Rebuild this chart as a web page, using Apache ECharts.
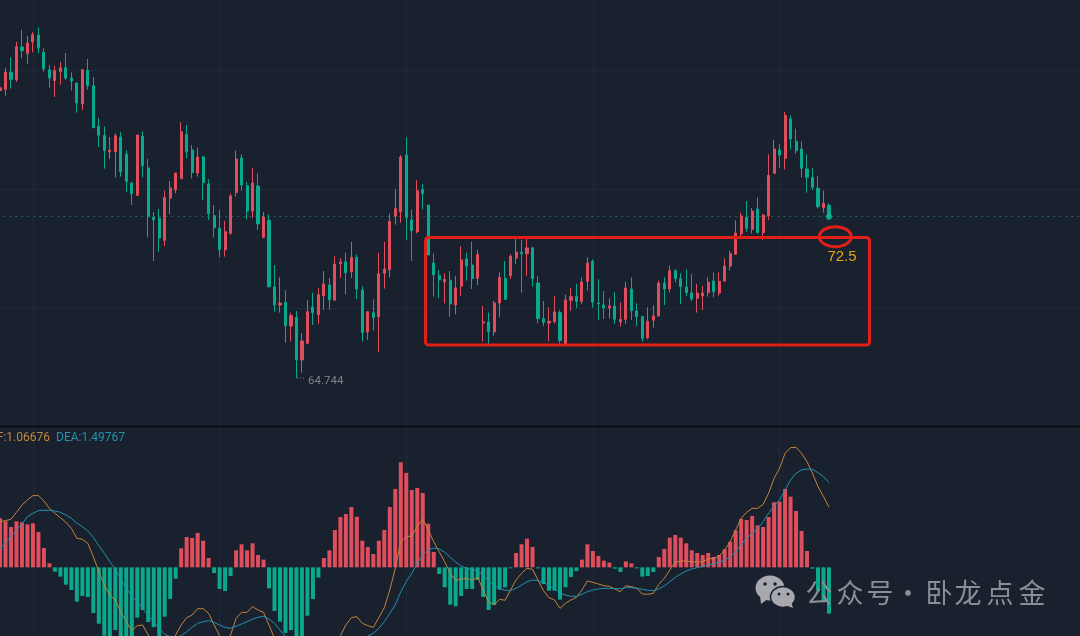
<!DOCTYPE html>
<html><head><meta charset="utf-8">
<style>html,body{margin:0;padding:0;background:#1a212e;overflow:hidden}#c{width:1080px;height:636px}</style>
<script src="https://cdn.jsdelivr.net/npm/echarts@6/dist/echarts.min.js"></script>
</head><body><div id="c"></div>
<script>
const opens=[80.55,80.62,81.56,81.14,82.95,82.60,83.23,83.61,82.66,81.70,
81.10,81.59,81.81,81.24,80.97,79.83,81.67,80.82,78.60,78.09,
77.18,77.19,78.00,77.05,75.47,74.79,78.04,76.30,73.58,73.53,
72.32,74.63,75.09,75.71,78.15,77.29,76.02,76.90,75.42,73.67,
72.98,71.79,72.70,74.94,76.85,75.32,73.93,75.30,72.48,73.42,
69.75,68.76,68.91,67.60,68.08,65.74,66.65,68.65,68.23,69.27,
69.86,69.02,71.03,71.13,70.58,71.38,69.59,67.28,68.34,68.12,
70.50,70.70,73.64,73.87,77.01,73.44,72.79,75.10,74.26,71.07,
70.37,70.03,70.12,68.76,69.80,71.29,70.96,70.23,67.77,67.83,
67.28,68.87,70.23,70.37,71.34,71.67,71.58,71.91,69.97,68.01,
67.77,67.84,68.34,66.62,69.02,69.24,68.96,70.06,71.16,68.87,
68.76,68.60,68.71,67.83,67.97,69.64,68.43,68.12,66.96,67.92,
68.16,69.97,69.64,70.65,70.21,69.75,69.42,69.13,69.26,69.44,
70.08,69.42,70.08,70.90,71.55,72.67,73.58,72.92,74.04,72.74,
73.67,76.00,77.29,76.83,78.99,77.76,77.34,76.24,75.78,75.18,74.11,74.24];
const closes=[80.71,81.56,81.17,82.97,82.75,83.17,83.63,82.91,81.76,81.24,
81.65,81.81,81.24,81.08,79.87,81.70,80.82,78.51,78.09,77.25,
77.27,78.07,76.08,75.56,74.88,78.11,76.42,73.62,73.44,72.45,
74.68,75.20,76.02,78.29,77.19,76.04,76.90,75.49,73.78,73.01,
71.80,72.79,74.76,76.79,75.36,73.93,75.47,73.22,73.60,69.77,
68.76,68.87,67.62,68.17,65.74,66.78,68.39,68.34,69.33,69.92,
69.04,71.00,71.13,70.54,71.38,69.64,67.24,68.39,68.06,70.48,
70.74,73.36,74.06,76.90,73.56,72.85,75.05,74.90,71.51,70.43,
70.14,70.17,68.82,69.70,71.24,70.90,70.21,71.53,67.83,67.29,
68.87,70.28,69.07,71.45,71.67,71.58,71.90,70.21,68.01,67.81,
67.86,68.38,66.80,69.04,69.22,68.96,70.03,71.07,68.91,68.82,
68.60,68.71,67.97,67.97,69.70,68.45,68.12,66.93,67.86,68.16,
69.97,69.64,70.65,70.21,69.77,69.44,69.09,69.42,69.42,70.01,
69.49,70.06,70.90,71.60,72.72,73.66,72.98,73.93,72.74,73.71,
75.89,77.34,77.01,79.19,77.89,77.25,76.28,75.78,75.23,74.17,74.35,73.62];
const highs=[80.75,81.81,82.38,83.23,83.89,83.56,83.76,84.03,82.88,81.96,
81.90,82.13,82.62,81.56,80.97,81.70,82.29,81.30,79.05,78.57,
78.00,78.20,78.27,77.27,75.51,78.11,78.31,76.80,73.87,74.04,
75.05,75.58,76.02,78.82,78.66,77.56,77.41,76.97,75.67,74.26,
73.99,73.38,74.87,77.25,77.05,75.53,76.30,76.00,73.87,73.73,
70.96,70.28,69.58,68.34,68.43,67.22,69.02,69.44,69.71,70.63,
70.25,71.44,71.33,71.64,72.23,71.53,69.79,68.43,69.07,71.64,
72.23,73.78,75.14,77.01,77.98,74.00,75.62,75.41,74.26,71.60,
70.69,70.50,70.63,70.36,72.00,71.64,72.23,71.78,68.71,68.34,
68.98,70.56,71.18,71.55,72.48,72.34,72.52,71.93,70.36,68.98,
68.63,69.24,68.49,69.33,69.70,69.92,70.28,71.38,71.27,70.17,
69.53,69.13,69.48,68.91,70.03,70.28,68.85,68.17,68.63,68.74,
70.10,70.28,70.94,70.72,70.50,70.72,70.46,69.92,69.80,70.28,
70.54,70.56,71.33,71.75,73.42,73.84,74.48,74.08,74.68,73.77,
77.05,77.84,77.62,79.39,79.19,78.46,77.76,77.05,76.30,75.84,75.05,74.35];
const lows=[80.54,80.26,80.66,81.03,82.34,82.03,82.66,82.60,81.59,80.71,
80.20,80.88,81.14,80.55,79.34,79.49,80.60,78.51,77.45,76.26,
76.79,75.78,75.82,74.98,74.26,74.79,75.78,72.48,71.18,71.69,
72.00,73.76,74.90,75.71,76.83,75.73,75.82,74.54,73.44,72.46,
71.38,71.42,72.63,74.72,75.05,73.47,73.53,72.89,72.43,69.71,
68.39,68.34,66.69,66.76,64.74,65.04,66.62,67.66,67.72,68.49,
68.49,69.02,70.25,69.35,70.23,69.09,66.76,66.84,67.35,66.16,
69.66,70.28,73.18,73.29,72.34,71.18,72.70,74.02,71.51,69.22,
69.14,68.85,68.12,68.25,69.26,70.10,69.64,69.86,66.74,66.62,
67.07,68.08,69.07,70.19,71.00,69.44,70.37,69.77,67.75,67.60,
66.76,67.75,66.65,66.56,68.45,68.58,68.82,69.55,68.61,67.94,
67.99,68.03,67.72,67.57,67.72,67.94,67.61,66.74,66.87,67.51,
68.12,68.76,69.44,70.01,68.82,69.26,68.99,68.34,68.49,69.22,
69.18,69.27,70.03,70.65,71.51,72.43,72.79,72.70,72.70,72.34,
73.44,76.00,76.31,76.22,77.32,77.07,75.78,74.94,75.09,74.08,73.84,73.44];
const macdHist=[.867,.814,.714,.814,.797,.761,.779,.625,.342,.071,
-.077,-.165,-.307,-.401,-.608,-.507,-.525,-.808,-.997,-1.21,
-1.30,-1.11,-1.33,-1.39,-1.27,-.891,-.755,-.968,-1.06,-1.27,
-.873,-.561,-.201,.336,.537,.519,.608,.472,.165,-.100,
-.384,-.419,-.153,.301,.407,.301,.425,.218,.136,-.372,
-.773,-.962,-1.16,-1.11,-1.24,-1.27,-.856,-.561,-.183,.165,
.301,.661,.891,.944,1.068,.897,.472,.360,.236,.472,
.661,1.068,1.387,1.859,1.670,1.369,1.404,1.316,.773,.271,
-.118,-.354,-.661,-.690,-.507,-.384,-.384,-.224,-.525,-.755,
-.667,-.395,-.354,-.018,.254,.407,.507,.360,-.018,-.295,
-.413,-.413,-.572,-.354,-.171,-.065,.136,.407,.289,.201,
.118,.083,-.024,-.083,.106,.071,-.018,-.165,-.153,-.083,
.183,.325,.525,.572,.525,.425,.301,.254,.218,.254,
.183,.218,.319,.454,.655,.856,.838,.909,.743,.714,
.891,1.151,1.162,1.387,1.251,.997,.643,.289,-.024,-.413,-.620,-.820];
const dif=[.808,.826,.850,.974,1.103,1.192,1.269,1.269,1.174,1.044,
.956,.879,.797,.690,.513,.496,.425,.189,-.077,-.313,
-.490,-.578,-.785,-.962,-1.121,-1.033,-1.021,-1.198,-1.375,-1.463,
-1.522,-1.493,-1.198,-1.021,-.891,-.844,-.732,-.732,-.814,-1.021,
-1.210,-1.316,-1.198,-.903,-.797,-.797,-.696,-.755,-.797,-1.021,
-1.257,-1.434,-1.552,-1.611,-1.670,-1.699,-1.699,-1.670,-1.581,-1.493,
-1.375,-1.286,-1.210,-1.021,-.891,-.873,-.991,-1.033,-1.062,-.891,
-.714,-.401,-.018,.454,.543,.555,.720,.856,.661,.454,
.277,.100,-.106,-.236,-.207,-.195,-.230,-.171,-.401,-.608,
-.661,-.566,-.584,-.401,-.224,-.106,-.018,-.035,-.224,-.413,
-.537,-.578,-.726,-.637,-.578,-.531,-.401,-.242,-.266,-.295,
-.325,-.336,-.384,-.431,-.325,-.342,-.372,-.472,-.478,-.460,
-.301,-.195,-.047,.089,.112,.112,.094,.094,.100,.148,
.159,.201,.307,.454,.661,.867,.974,1.044,1.044,1.115,
1.310,1.575,1.752,2.018,2.118,2.124,2.018,1.870,1.664,1.428,1.251,1.06676];
const dea=[.325,.437,.543,.661,.767,.897,.956,1.003,1.009,1.009,
.997,.974,.926,.867,.779,.720,.643,.531,.384,.248,
.100,-.030,-.212,-.372,-.507,-.608,-.738,-.844,-.962,-1.080,
-1.186,-1.227,-1.245,-1.210,-1.139,-1.062,-.991,-.962,-.944,-.974,
-1.021,-1.062,-1.080,-1.044,-1.003,-.962,-.915,-.885,-.867,-.915,
-.991,-1.109,-1.227,-1.316,-1.387,-1.446,-1.493,-1.522,-1.540,-1.540,
-1.522,-1.493,-1.446,-1.404,-1.363,-1.316,-1.269,-1.215,-1.168,-1.080,
-.962,-.814,-.667,-.431,-.254,-.106,.071,.218,.313,.342,
.325,.266,.177,.094,.024,-.018,-.035,-.065,-.136,-.254,
-.325,-.372,-.407,-.407,-.372,-.313,-.254,-.224,-.236,-.266,
-.325,-.372,-.460,-.490,-.513,-.513,-.478,-.431,-.401,-.384,
-.372,-.372,-.378,-.378,-.360,-.360,-.372,-.389,-.407,-.413,
-.384,-.330,-.254,-.177,-.118,-.065,-.030,-.006,.018,.041,
.059,.089,.130,.177,.277,.407,.513,.602,.690,.808,
.956,1.086,1.192,1.369,1.546,1.664,1.723,1.741,1.735,1.676,1.605,1.49767];
const gridPrices=[81.685,75.14,68.595];
const gridColumns=[6,40,74,108,142];
const difLabel='DIF:1.06676', deaLabel='DEA:1.49767', lowLabel='64.744', targetLabel='72.5';
const watermarkChars=['公','众','号','·','卧','龙','点','金'];
const watermarkX=[819,850,880,908,939,968,1000,1032];

const BANDS=198, BAND=5.49;
const categories=Array.from({length:BANDS},(_,i)=>String(i));
const UP='#e04d5c', DOWN='#0aa88c';
const gridLine={color:'#1f2b36',width:1,type:'solid'};
const chart=echarts.init(document.getElementById('c'),null,{renderer:'canvas'});
const lastIdx=closes.length-1;
chart.setOption({
 animation:false, backgroundColor:'#1a212e',
 grid:[{left:-2.745,top:0,width:BANDS*BAND,height:427,containLabel:false,outerBoundsMode:'none'},
       {left:-2.745,top:427,width:BANDS*BAND,height:209,containLabel:false,outerBoundsMode:'none'}],
 xAxis:[{type:'category',gridIndex:0,data:categories,axisLine:{show:false},axisTick:{show:false},axisLabel:{show:false},splitLine:{show:false}},
        {type:'category',gridIndex:1,data:categories,axisLine:{show:false},axisTick:{show:false},axisLabel:{show:false},splitLine:{show:false}}],
 yAxis:[{type:'value',gridIndex:0,min:62.05,max:85.535,axisLine:{show:false},axisTick:{show:false},axisLabel:{show:false},splitLine:{show:false}},
        {type:'value',gridIndex:1,min:-1.2154,max:2.4833,axisLine:{show:false},axisTick:{show:false},axisLabel:{show:false},splitLine:{show:false}}],
 series:[
  {type:'line',xAxisIndex:0,yAxisIndex:0,z:1,data:[],silent:true,
   markLine:{z:0,silent:true,symbol:'none',label:{show:false},lineStyle:gridLine,animation:false,
    data:gridPrices.map(v=>({yAxis:v})).concat(gridColumns.map(c=>({xAxis:c})))}},
  {type:'line',xAxisIndex:1,yAxisIndex:1,z:1,data:[],silent:true,
   markLine:{z:0,silent:true,symbol:'none',label:{show:false},lineStyle:gridLine,animation:false,
    data:gridColumns.map(c=>({xAxis:c}))}},
  {type:'candlestick',xAxisIndex:0,yAxisIndex:0,z:3,barWidth:2.6,
   data:opens.map((o,i)=>[o,closes[i],lows[i],highs[i]]),
   itemStyle:{color:UP,color0:DOWN,borderColor:UP,borderColor0:DOWN,borderWidth:1},
   markLine:{z:1,silent:true,symbol:'none',label:{show:false},animation:false,
    lineStyle:{color:'#2a5c5a',width:1,type:[2,4]},
    data:[{yAxis:closes[lastIdx]}]}},
  {type:'scatter',xAxisIndex:0,yAxisIndex:0,z:4,symbolSize:6,silent:true,
   data:[[lastIdx,closes[lastIdx]]],
   itemStyle:{color:'#12b79a',shadowBlur:18,shadowColor:'#12d0ae'}},
  {type:'bar',xAxisIndex:1,yAxisIndex:1,z:2,barWidth:4,
   data:macdHist.map(v=>({value:v,itemStyle:{color:v>=0?UP:DOWN}}))},
  {type:'line',xAxisIndex:1,yAxisIndex:1,z:3,data:dif,symbol:'none',showSymbol:false,lineStyle:{color:'#c5843c',width:1}},
  {type:'line',xAxisIndex:1,yAxisIndex:1,z:3,data:dea,symbol:'none',showSymbol:false,lineStyle:{color:'#1f93b0',width:1}}
 ],
 graphic:{elements:[
  {type:'line',silent:true,z:20,shape:{x1:0,y1:426.5,x2:1080,y2:426.5},style:{stroke:'#07090d',lineWidth:1.5}},
  {type:'rect',silent:true,z:30,shape:{x:425.5,y:237.5,width:444,height:107.5,r:3},style:{fill:'none',stroke:'#e21e18',lineWidth:3}},
  {type:'ellipse',silent:true,z:30,shape:{cx:835.3,cy:236.7,rx:16,ry:10},style:{fill:'none',stroke:'#e21e18',lineWidth:3}},
  {type:'text',silent:true,z:30,style:{x:842,y:257,text:targetLabel,fill:'#dfa80e',font:'15px "Liberation Sans",Arial,sans-serif',align:'center',verticalAlign:'middle'}},
  {type:'line',silent:true,z:25,shape:{x1:297,y1:378,x2:306,y2:378},style:{stroke:'#7c828c',lineWidth:1,lineDash:[1,2]}},
  {type:'text',silent:true,z:25,style:{x:308,y:381,text:lowLabel,fill:'#7c828c',font:'11.5px Roboto,sans-serif',align:'left',verticalAlign:'middle'}},
  {type:'text',silent:true,z:25,style:{x:50,y:438,text:difLabel,fill:'#c5843c',font:'12px Roboto,sans-serif',align:'right',verticalAlign:'middle'}},
  {type:'text',silent:true,z:25,style:{x:56,y:438,text:deaLabel,fill:'#1f93b0',font:'12px Roboto,sans-serif',align:'left',verticalAlign:'middle'}},
  {type:'ellipse',silent:true,z:40,shape:{cx:770,cy:588,rx:14.5,ry:12.5},style:{fill:'#a7a9ae'}},
  {type:'polygon',silent:true,z:40,shape:{points:[[760,596],[761,604],[769,598]]},style:{fill:'#a7a9ae'}},
  {type:'circle',silent:true,z:41,shape:{cx:765,cy:584,r:1.8},style:{fill:'#1a212e'}},
  {type:'circle',silent:true,z:41,shape:{cx:775,cy:584,r:1.8},style:{fill:'#1a212e'}},
  {type:'ellipse',silent:true,z:42,shape:{cx:783,cy:597,rx:12.5,ry:10.5},style:{fill:'#a7a9ae',stroke:'#1a212e',lineWidth:1.5}},
  {type:'polygon',silent:true,z:42,shape:{points:[[785,605],[793,608],[791,601]]},style:{fill:'#a7a9ae'}},
  {type:'circle',silent:true,z:43,shape:{cx:779,cy:594,r:1.5},style:{fill:'#1a212e'}},
  {type:'circle',silent:true,z:43,shape:{cx:788,cy:594,r:1.5},style:{fill:'#1a212e'}}
 ].concat(watermarkChars.map((ch,i)=>({type:'text',silent:true,z:40,style:{x:watermarkX[i],y:593,text:ch,fill:'#8b8e94',font:'27px "Noto Sans CJK SC",sans-serif',align:'center',verticalAlign:'middle'}})))}
});
</script></body></html>
